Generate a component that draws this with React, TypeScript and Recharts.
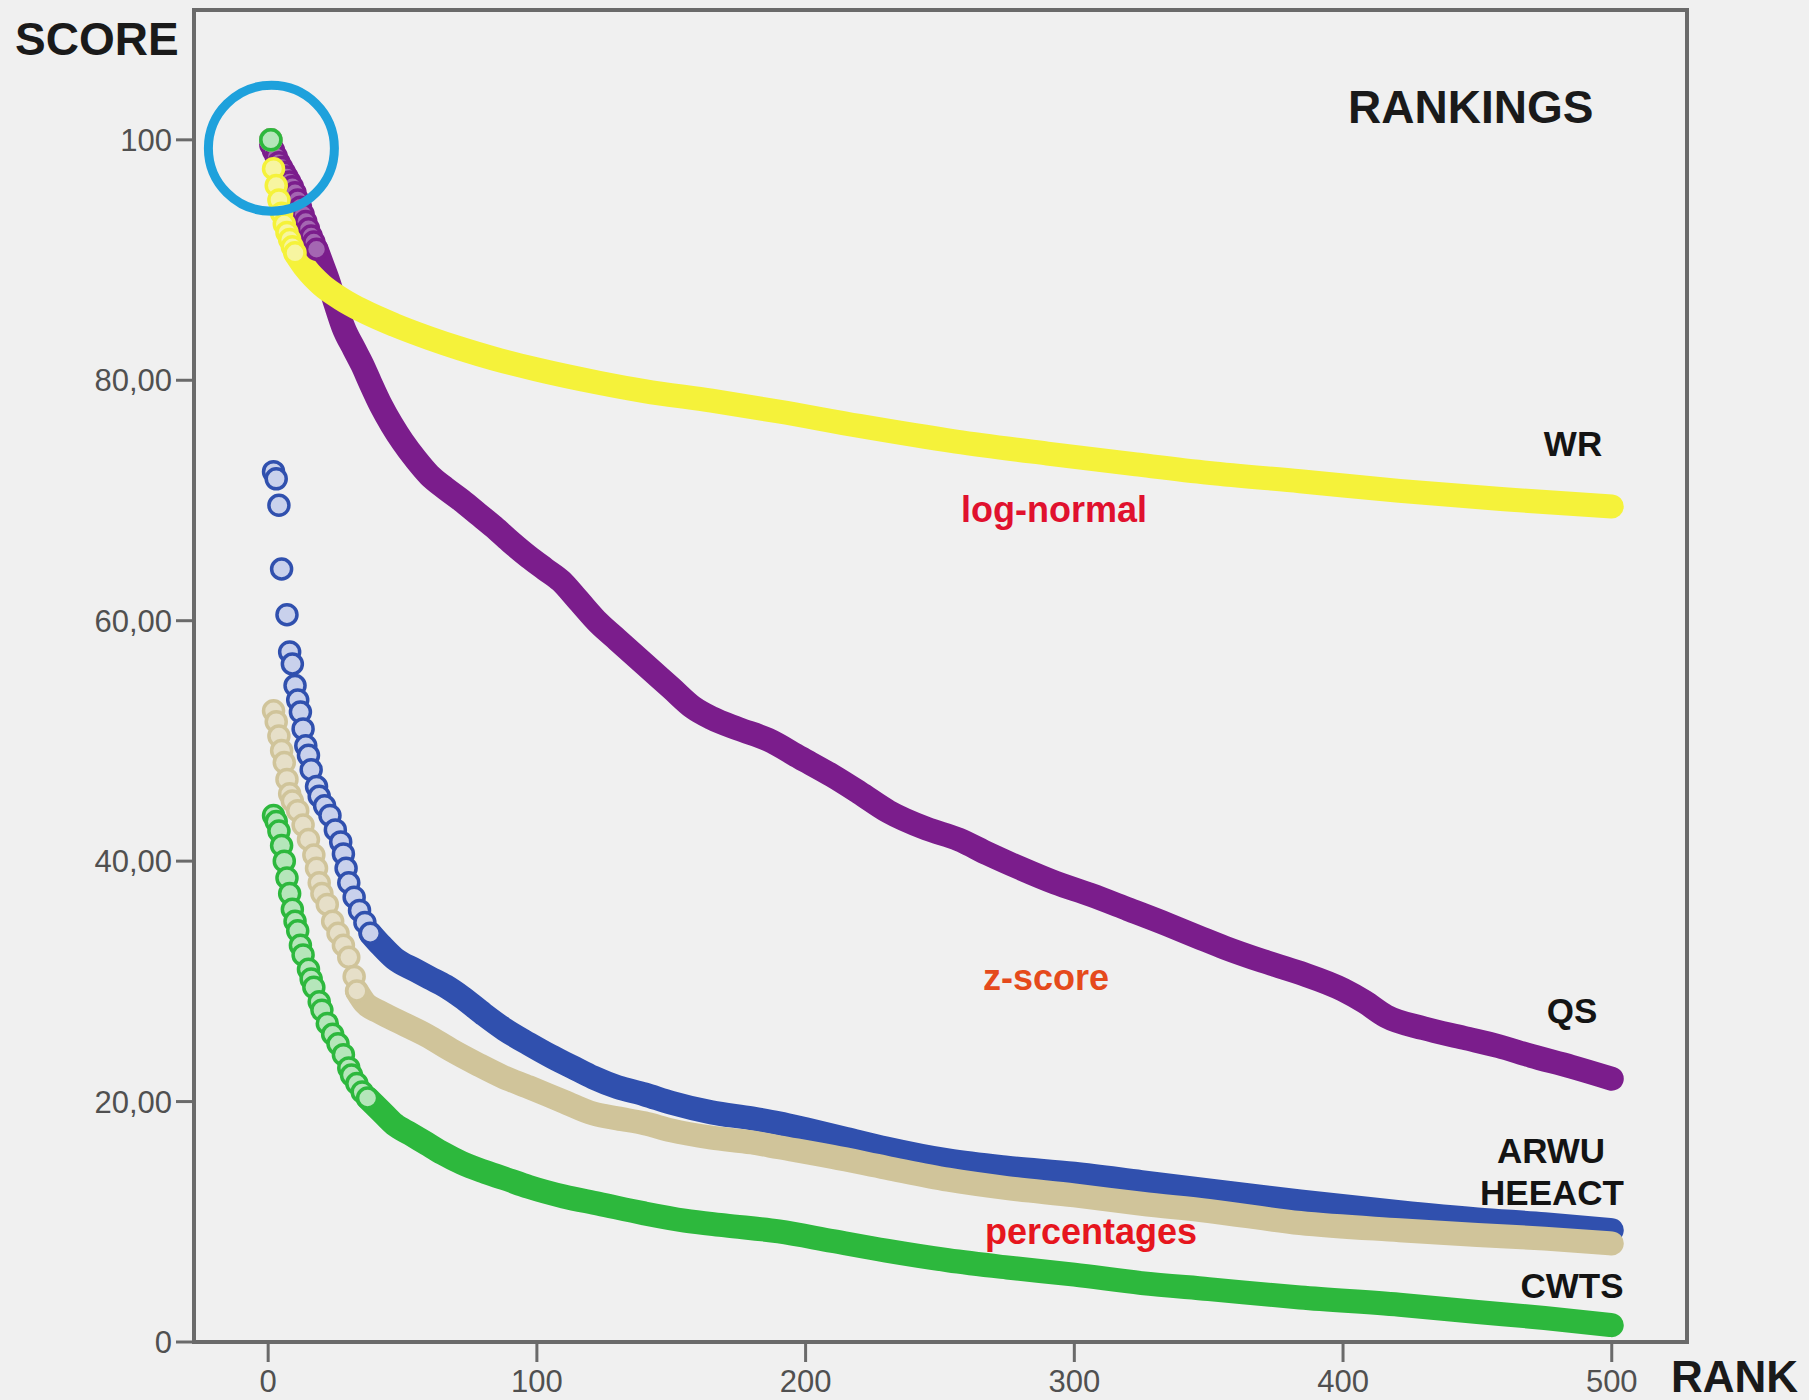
import React from 'react'
import {
  ComposedChart, Line, Scatter, XAxis, YAxis, ReferenceArea, ReferenceDot,
} from 'recharts'

const FONT = '"Liberation Sans", Arial, sans-serif'

// axis ticks
const xTicks = [0, 100, 200, 300, 400, 500]
const yTicks = [0, 20, 40, 60, 80, 100]
const yTickLabels = ['0', '20,00', '40,00', '60,00', '80,00', '100']

// [rank, score]. "head" = the separate open circles at the top,
// "tail" = the dense part where the circles merge into a band
const wrHead = [[1, 100], [2, 97.6], [3, 96.2], [4, 95.0], [5, 93.9], [6, 93.0], [7, 92.3], [8, 91.7], [9, 91.1], [10, 90.6]]
const wrTail = [[10, 90.6], [14, 89.3], [20, 87.9], [27, 86.8], [35, 85.8], [47, 84.6], [60, 83.5], [72, 82.6], [84, 81.8], [100, 80.9], [123, 79.8], [140, 79.1], [165, 78.3], [190, 77.4], [220, 76.2], [256, 74.9], [290, 73.9], [323, 73.0], [350, 72.3], [384, 71.6], [421, 70.8], [460, 70.1], [500, 69.5]]

const qsHead = [[1, 99.6], [2, 99.1], [3, 98.6], [4, 98.1], [5, 97.7], [6, 97.3], [7, 96.9], [8, 96.5], [9, 96.1], [10, 95.6], [11, 95.0], [12, 94.4], [13, 93.8], [14, 93.2], [15, 92.6], [16, 92.0], [17, 91.5], [18, 90.9]]
const qsTail = [[18, 90.9], [20, 89.7], [22, 88.5], [25, 86.4], [28, 84.4], [32, 82.6], [35, 81.3], [38, 79.8], [42, 77.9], [46, 76.3], [50, 74.9], [55, 73.4], [60, 72.1], [66, 71.0], [72, 70.0], [78, 68.9], [84, 67.8], [90, 66.6], [97, 65.3], [103, 64.3], [109, 63.3], [115, 61.8], [123, 59.8], [130, 58.4], [140, 56.4], [150, 54.4], [158, 52.8], [165, 51.9], [175, 51.0], [186, 50.1], [198, 48.6], [210, 47.1], [220, 45.7], [231, 44.1], [245, 42.7], [257, 41.8], [268, 40.6], [280, 39.4], [293, 38.2], [306, 37.2], [320, 36.0], [335, 34.7], [347, 33.6], [356, 32.8], [370, 31.7], [384, 30.7], [400, 29.3], [408, 28.3], [416, 27.1], [430, 26.1], [445, 25.3], [458, 24.6], [470, 23.8], [485, 22.9], [500, 21.9]]

const arwuHead = [[1, 100], [2, 72.4], [3, 71.8], [4, 69.6], [5, 64.3], [7, 60.5], [8, 57.4], [9, 56.4], [10, 54.6], [11, 53.4], [12, 52.4], [13, 51.0], [14, 49.6], [15, 48.8], [16, 47.6], [18, 46.2], [19, 45.4], [21, 44.6], [23, 43.8], [25, 42.6], [27, 41.6], [28, 40.6], [29, 39.4], [30, 38.2], [32, 37.0], [34, 35.9], [36, 34.9], [38, 34.0]]
const arwuTail = [[38, 34.0], [42, 33.0], [47, 31.9], [55, 30.9], [60, 30.3], [66, 29.6], [72, 28.7], [80, 27.3], [88, 26.0], [97, 24.8], [105, 23.8], [113, 22.9], [121, 22.0], [130, 21.2], [140, 20.6], [150, 19.9], [165, 19.1], [180, 18.6], [190, 18.2], [200, 17.7], [215, 16.9], [230, 16.1], [253, 15.1], [275, 14.5], [300, 14.0], [325, 13.3], [350, 12.6], [384, 11.7], [421, 10.8], [450, 10.2], [475, 9.8], [500, 9.3]]

const heeactHead = [[1, 100], [2, 52.5], [3, 51.6], [4, 50.4], [5, 49.2], [6, 48.2], [7, 46.8], [8, 45.6], [9, 45.0], [11, 44.2], [13, 43.0], [15, 41.8], [17, 40.5], [18, 39.4], [19, 38.2], [20, 37.3], [22, 36.4], [24, 35.0], [26, 34.0], [28, 33.0], [30, 32.0], [32, 30.4], [33, 29.2]]
const heeactTail = [[33, 29.2], [36, 28.2], [41, 27.5], [50, 26.5], [59, 25.5], [68, 24.3], [78, 23.1], [87, 22.1], [97, 21.2], [110, 20.0], [121, 19.0], [130, 18.6], [140, 18.2], [150, 17.6], [165, 17.0], [180, 16.6], [190, 16.2], [210, 15.4], [230, 14.5], [253, 13.5], [275, 12.8], [300, 12.2], [325, 11.5], [350, 10.9], [384, 9.9], [421, 9.3], [450, 8.9], [475, 8.6], [500, 8.2]]

const cwtsHead = [[1, 100], [2, 43.8], [3, 43.3], [4, 42.5], [5, 41.3], [6, 40.0], [7, 38.6], [8, 37.3], [9, 36.0], [10, 35.0], [11, 34.2], [12, 33.0], [13, 32.2], [15, 31.0], [16, 30.2], [17, 29.5], [19, 28.3], [20, 27.6], [22, 26.5], [24, 25.6], [26, 24.8], [28, 23.9], [30, 22.8], [31, 22.2], [33, 21.5], [35, 20.8], [37, 20.3]]
const cwtsTail = [[37, 20.3], [42, 19.2], [47, 18.1], [53, 17.3], [59, 16.5], [65, 15.7], [72, 14.9], [80, 14.2], [88, 13.6], [97, 12.9], [110, 12.1], [123, 11.5], [140, 10.7], [155, 10.1], [170, 9.7], [190, 9.2], [210, 8.4], [230, 7.6], [253, 6.8], [275, 6.2], [300, 5.6], [325, 4.9], [350, 4.4], [384, 3.7], [421, 3.1], [450, 2.5], [475, 2.0], [500, 1.4]]

const toPts = (rows: number[][]) => rows.map(([rank, score]) => ({ rank, score }))

// drawing order matters: later ones sit on top
const series = [
  { name: 'QS', head: qsHead, tail: qsTail, color: '#7b1d8c', fill: '#a466b2' },
  { name: 'WR', head: wrHead, tail: wrTail, color: '#f5f23a', fill: '#f7f5a0' },
  { name: 'ARWU', head: arwuHead, tail: arwuTail, color: '#3050ae', fill: '#c9d1ec' },
  { name: 'HEEACT', head: heeactHead, tail: heeactTail, color: '#d0c49a', fill: '#e6dfc8' },
  { name: 'CWTS', head: cwtsHead, tail: cwtsTail, color: '#2db83d', fill: '#b5e6ba' },
]

const ring = (stroke: string, fill: string) => (p: any) => (
  <circle cx={p.cx} cy={p.cy} r={10} fill={fill} stroke={stroke} strokeWidth={3.5} />
)

const nameLabels = [
  { text: 'WR', x: 1573, y: 456 },
  { text: 'QS', x: 1572, y: 1023 },
  { text: 'ARWU', x: 1551, y: 1163 },
  { text: 'HEEACT', x: 1552, y: 1205 },
  { text: 'CWTS', x: 1572, y: 1298 },
]
const methodLabels = [
  { text: 'log-normal', x: 1054, y: 522, color: '#e0112e' },
  { text: 'z-score', x: 1046, y: 990, color: '#e54a1c' },
  { text: 'percentages', x: 1091, y: 1244, color: '#e6161e' },
]

const axisColor = '#6a6a6a'

const App = () => {
  return (
    <div style={{ position: 'absolute', left: 0, top: 0, width: 1809, height: 1400, background: '#f0f0f0' }}>
      <ComposedChart
        width={1809}
        height={1400}
        margin={{ top: 10, right: 122, bottom: 18, left: 134 }}
      >
        <XAxis
          type="number"
          dataKey="rank"
          domain={[-27.6, 528]}
          ticks={xTicks}
          allowDataOverflow
          height={40}
          tickSize={20}
          tickMargin={8}
          axisLine={{ stroke: axisColor, strokeWidth: 4 }}
          tickLine={{ stroke: axisColor, strokeWidth: 3 }}
          tick={{ fill: '#505050', fontSize: 31, fontFamily: FONT }}
        />
        <YAxis
          type="number"
          dataKey="score"
          domain={[0, 110.8]}
          ticks={yTicks}
          allowDataOverflow
          width={60}
          tickSize={18}
          tickMargin={4}
          tickFormatter={(v) => yTickLabels[yTicks.indexOf(v)]}
          axisLine={{ stroke: axisColor, strokeWidth: 4 }}
          tickLine={{ stroke: axisColor, strokeWidth: 3 }}
          tick={{ fill: '#505050', fontSize: 31, fontFamily: FONT }}
        />
        <ReferenceArea
          x1={-27.6} x2={528} y1={0} y2={110.8}
          fill="none" stroke={axisColor} strokeWidth={4}
        />
        {series.map((s) => (
          <Line
            key={s.name + '-band'}
            data={toPts(s.tail)}
            dataKey="score"
            type="monotone"
            stroke={s.color}
            strokeWidth={24}
            strokeLinecap="round"
            strokeLinejoin="round"
            dot={false}
            activeDot={false}
            isAnimationActive={false}
          />
        ))}
        {series.map((s) => (
          <Scatter
            key={s.name + '-dots'}
            data={toPts(s.head)}
            dataKey="score"
            shape={ring(s.color, s.fill)}
            isAnimationActive={false}
          />
        ))}
        <ReferenceDot
          x={1.2} y={99.3} r={63}
          fill="none" stroke="#1ea1dc" strokeWidth={9}
        />
      </ComposedChart>
      <svg
        width={1809}
        height={1400}
        style={{ position: 'absolute', left: 0, top: 0, pointerEvents: 'none' }}
        fontFamily={FONT}
        fontWeight="bold"
      >
        <text x={15} y={55} fontSize={46} fill="#1a1a1a">SCORE</text>
        <text x={1348} y={123} fontSize={46} fill="#1a1a1a">RANKINGS</text>
        <text x={1798} y={1392} fontSize={44} fill="#1a1a1a" textAnchor="end">RANK</text>
        {nameLabels.map((l) => (
          <text key={l.text} x={l.x} y={l.y} fontSize={35} fill="#141414" textAnchor="middle">{l.text}</text>
        ))}
        {methodLabels.map((l) => (
          <text key={l.text} x={l.x} y={l.y} fontSize={36} fill={l.color} textAnchor="middle">{l.text}</text>
        ))}
      </svg>
    </div>
  )
}

export default App
